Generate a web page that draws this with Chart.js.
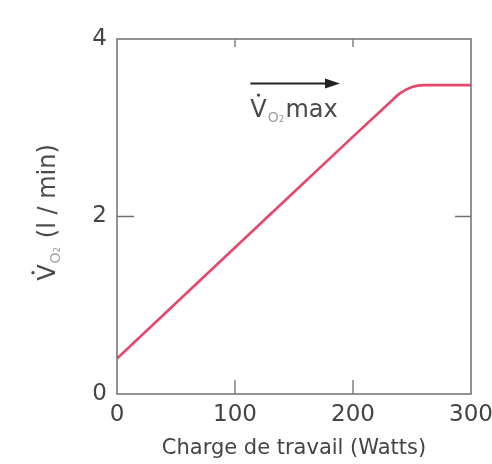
<!DOCTYPE html>
<html>
<head>
<meta charset="utf-8">
<script src="https://cdn.jsdelivr.net/npm/chart.js@4/dist/chart.umd.min.js"></script>
<style>
html,body{margin:0;padding:0;background:#fff;}
#wrap{width:492px;height:464px;}
</style>
</head>
<body>
<div id="wrap"><canvas id="c" width="492" height="464"></canvas></div>
<script>
const workload = [0, 100, 200, 230, 240, 250, 260, 300];
const vo2 = [0.40, 1.65, 2.90, 3.27, 3.39, 3.46, 3.48, 3.48];
const xTicks = [0, 100, 200, 300];
const yTicks = [0, 2, 4];
const xTitle = 'Charge de travail (Watts)';
const yTitleUnit = ' (l / min)';
const annotationArrow = {x0: 113, x1: 189, y: 3.5};
const annotationLabel = {x: 113, y: 3.12};

const FONT = '"DejaVu Sans", sans-serif';
const AXIS = '#707070';
const TXT = '#444444';
const BIG = 24;
const SUB = 14;

const frame = {
  id: 'frame',
  afterDraw(chart) {
    const {ctx, chartArea: a, scales: {x, y}} = chart;
    ctx.save();
    ctx.strokeStyle = AXIS;
    ctx.lineWidth = 1.5;
    ctx.strokeRect(a.left, a.top, a.right - a.left, a.bottom - a.top);
    ctx.lineWidth = 1.3;
    ctx.beginPath();
    [100, 200].forEach(v => {
      const px = x.getPixelForValue(v);
      ctx.moveTo(px, a.bottom); ctx.lineTo(px, a.bottom - 14);
      ctx.moveTo(px, a.top); ctx.lineTo(px, a.top + 8);
    });
    const py = y.getPixelForValue(2);
    ctx.moveTo(a.left, py); ctx.lineTo(a.left + 17, py);
    ctx.moveTo(a.right, py); ctx.lineTo(a.right - 16, py);
    ctx.stroke();

    // arrow
    const ax0 = x.getPixelForValue(annotationArrow.x0);
    const ax1 = x.getPixelForValue(annotationArrow.x1);
    const ay = y.getPixelForValue(annotationArrow.y);
    ctx.strokeStyle = '#222';
    ctx.fillStyle = '#222';
    ctx.lineWidth = 2;
    ctx.beginPath();
    ctx.moveTo(ax0, ay); ctx.lineTo(ax1 - 12, ay);
    ctx.stroke();
    ctx.beginPath();
    ctx.moveTo(ax1, ay); ctx.lineTo(ax1 - 15, ay - 5); ctx.lineTo(ax1 - 15, ay + 5); ctx.closePath();
    ctx.fill();

    // annotation label
    const lx = x.getPixelForValue(annotationLabel.x);
    const ly = y.getPixelForValue(annotationLabel.y);
    drawVO2(ctx, lx, ly, 'max');

    // y title (rotated)
    ctx.save();
    ctx.translate(55, (a.top + a.bottom) / 2 - 4);
    ctx.rotate(-Math.PI / 2);
    const w = measureVO2(ctx, yTitleUnit);
    drawVO2(ctx, -w / 2, 0, yTitleUnit);
    ctx.restore();
    ctx.restore();
  }
};

function measureVO2(ctx, tail) {
  ctx.font = BIG + 'px ' + FONT;
  let w = ctx.measureText('V').width;
  ctx.font = SUB + 'px ' + FONT;
  w += ctx.measureText('O₂').width + 2;
  ctx.font = BIG + 'px ' + FONT;
  w += ctx.measureText(tail).width;
  return w;
}

function drawVO2(ctx, x0, y0, tail) {
  ctx.save();
  ctx.textAlign = 'left';
  ctx.textBaseline = 'alphabetic';
  ctx.fillStyle = '#4a4a4a';
  ctx.font = BIG + 'px ' + FONT;
  const vw = ctx.measureText('V').width;
  ctx.fillText('V', x0, y0);
  ctx.beginPath();
  ctx.arc(x0 + vw / 2, y0 - 22, 1.7, 0, Math.PI * 2);
  ctx.fill();
  let cx = x0 + vw + 1;
  ctx.font = SUB + 'px ' + FONT;
  ctx.fillStyle = '#a0a0a0';
  ctx.fillText('O₂', cx, y0 + 5);
  cx += ctx.measureText('O₂').width + 1;
  ctx.font = BIG + 'px ' + FONT;
  ctx.fillStyle = '#4a4a4a';
  ctx.fillText(tail, cx, y0);
  ctx.restore();
}

new Chart(document.getElementById('c'), {
  type: 'line',
  data: {
    datasets: [{
      data: workload.map((w, i) => ({x: w, y: vo2[i]})),
      borderColor: '#e8466a',
      borderWidth: 2.6,
      pointRadius: 0,
      cubicInterpolationMode: 'monotone',
      fill: false
    }]
  },
  options: {
    responsive: false,
    animation: false,
    devicePixelRatio: 1,
    layout: {padding: {top: 39, right: 21, left: 0, bottom: 0}},
    plugins: {legend: {display: false}, tooltip: {enabled: false}},
    scales: {
      x: {
        type: 'linear', min: 0, max: 300,
        afterBuildTicks(s) { s.ticks = xTicks.map(v => ({value: v})); },
        afterFit(s) { s.height = 70; s.paddingLeft = 0; s.paddingRight = 0; },
        grid: {display: false, drawTicks: false},
        border: {display: false},
        ticks: {color: TXT, font: {family: FONT, size: 23}, padding: 7, maxRotation: 0, autoSkip: false},
        title: {display: true, text: xTitle, color: TXT, font: {family: FONT, size: 21}, padding: {top: 0, bottom: 3}}
      },
      y: {
        min: 0, max: 4,
        afterBuildTicks(s) { s.ticks = yTicks.map(v => ({value: v})); },
        afterFit(s) { s.width = 117; s.paddingTop = 0; s.paddingBottom = 0; },
        grid: {display: false, drawTicks: false},
        border: {display: false},
        ticks: {color: TXT, font: {family: FONT, size: 23}, padding: 10}
      }
    }
  },
  plugins: [frame]
});
</script>
</body>
</html>
